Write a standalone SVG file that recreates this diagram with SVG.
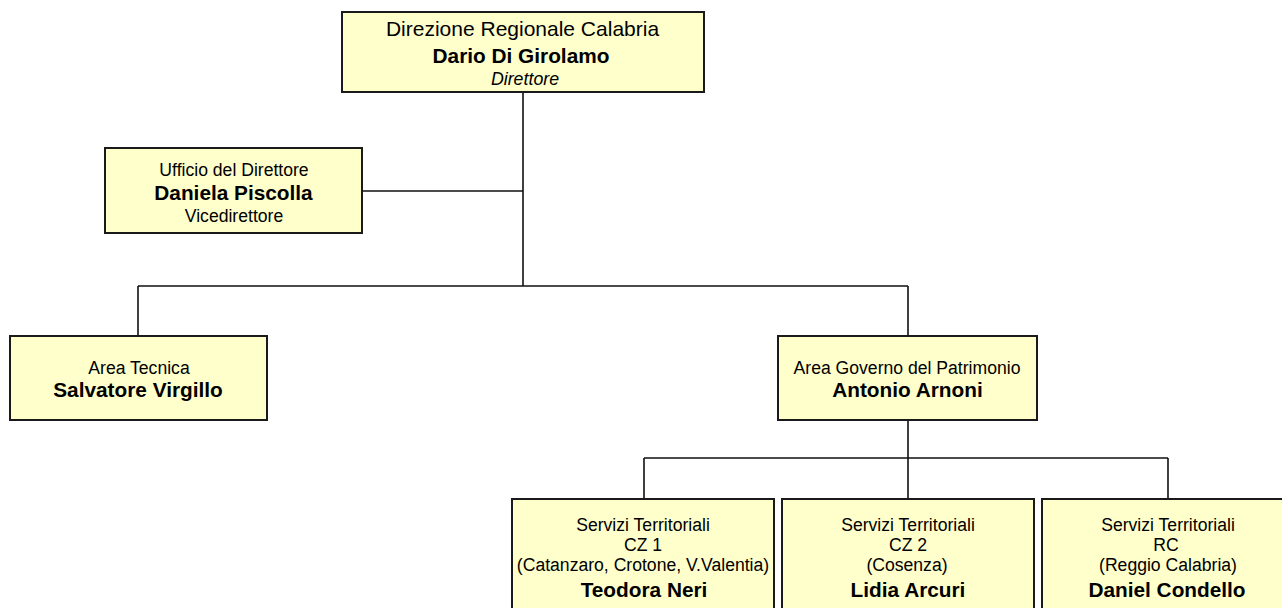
<svg xmlns="http://www.w3.org/2000/svg" width="1282" height="608" viewBox="0 0 1282 608">
<style>
.box{fill:#FFFFCC;stroke:#1a1a1a;stroke-width:2}
.ln{stroke:#111;stroke-width:1.6;fill:none}
text{font-family:"Liberation Sans",Arial,sans-serif;fill:#000;text-anchor:middle}
.r{font-size:17.6px}
.b{font-size:20.8px;font-weight:bold}
.t{font-size:21px}
.i{font-size:17.8px;font-style:italic}
</style>
<rect width="1282" height="608" fill="#fff"/>
<g id="connectors">
<path class="ln" d="M523,92 V286 M362,191 H523 M138,286 H908 M138,286 V336 M908,286 V336 M908,420 V458 M644,458 H1168 M644,458 V499 M908,458 V499 M1168,458 V499"/>
</g>
<g id="direzione">
<rect class="box" x="342" y="12" width="362" height="80"/>
<text class="t" x="522.5" y="36">Direzione Regionale Calabria</text>
<text class="b" x="521" y="62.5">Dario Di Girolamo</text>
<text class="i" x="525" y="85">Direttore</text>
</g>
<g id="ufficio">
<rect class="box" x="105" y="148" width="257" height="85"/>
<text class="r" x="234" y="176">Ufficio del Direttore</text>
<text class="b" x="233.5" y="199.5">Daniela Piscolla</text>
<text class="r" x="234" y="222">Vicedirettore</text>
</g>
<g id="area-tecnica">
<rect class="box" x="10" y="336" width="257" height="84"/>
<text class="r" x="139" y="373.5">Area Tecnica</text>
<text class="b" x="138" y="396.5">Salvatore Virgillo</text>
</g>
<g id="area-governo">
<rect class="box" x="778" y="336" width="259" height="84"/>
<text class="r" x="907" y="373.5">Area Governo del Patrimonio</text>
<text class="b" x="907.5" y="396.5">Antonio Arnoni</text>
</g>
<g id="st-cz1">
<rect class="box" x="512" y="499" width="262" height="140"/>
<text class="r" x="643" y="530.5">Servizi Territoriali</text>
<text class="r" x="643" y="551">CZ 1</text>
<text class="r" x="643" y="571">(Catanzaro, Crotone, V.Valentia)</text>
<text class="b" x="644" y="596.5">Teodora Neri</text>
</g>
<g id="st-cz2">
<rect class="box" x="782" y="499" width="252" height="140"/>
<text class="r" x="908" y="530.5">Servizi Territoriali</text>
<text class="r" x="908" y="551">CZ 2</text>
<text class="r" x="907" y="571">(Cosenza)</text>
<text class="b" x="908" y="596.5">Lidia Arcuri</text>
</g>
<g id="st-rc">
<rect class="box" x="1042" y="499" width="262" height="140"/>
<text class="r" x="1168" y="530.5">Servizi Territoriali</text>
<text class="r" x="1166" y="551">RC</text>
<text class="r" x="1168" y="571">(Reggio Calabria)</text>
<text class="b" x="1167" y="596.5">Daniel Condello</text>
</g>
</svg>
